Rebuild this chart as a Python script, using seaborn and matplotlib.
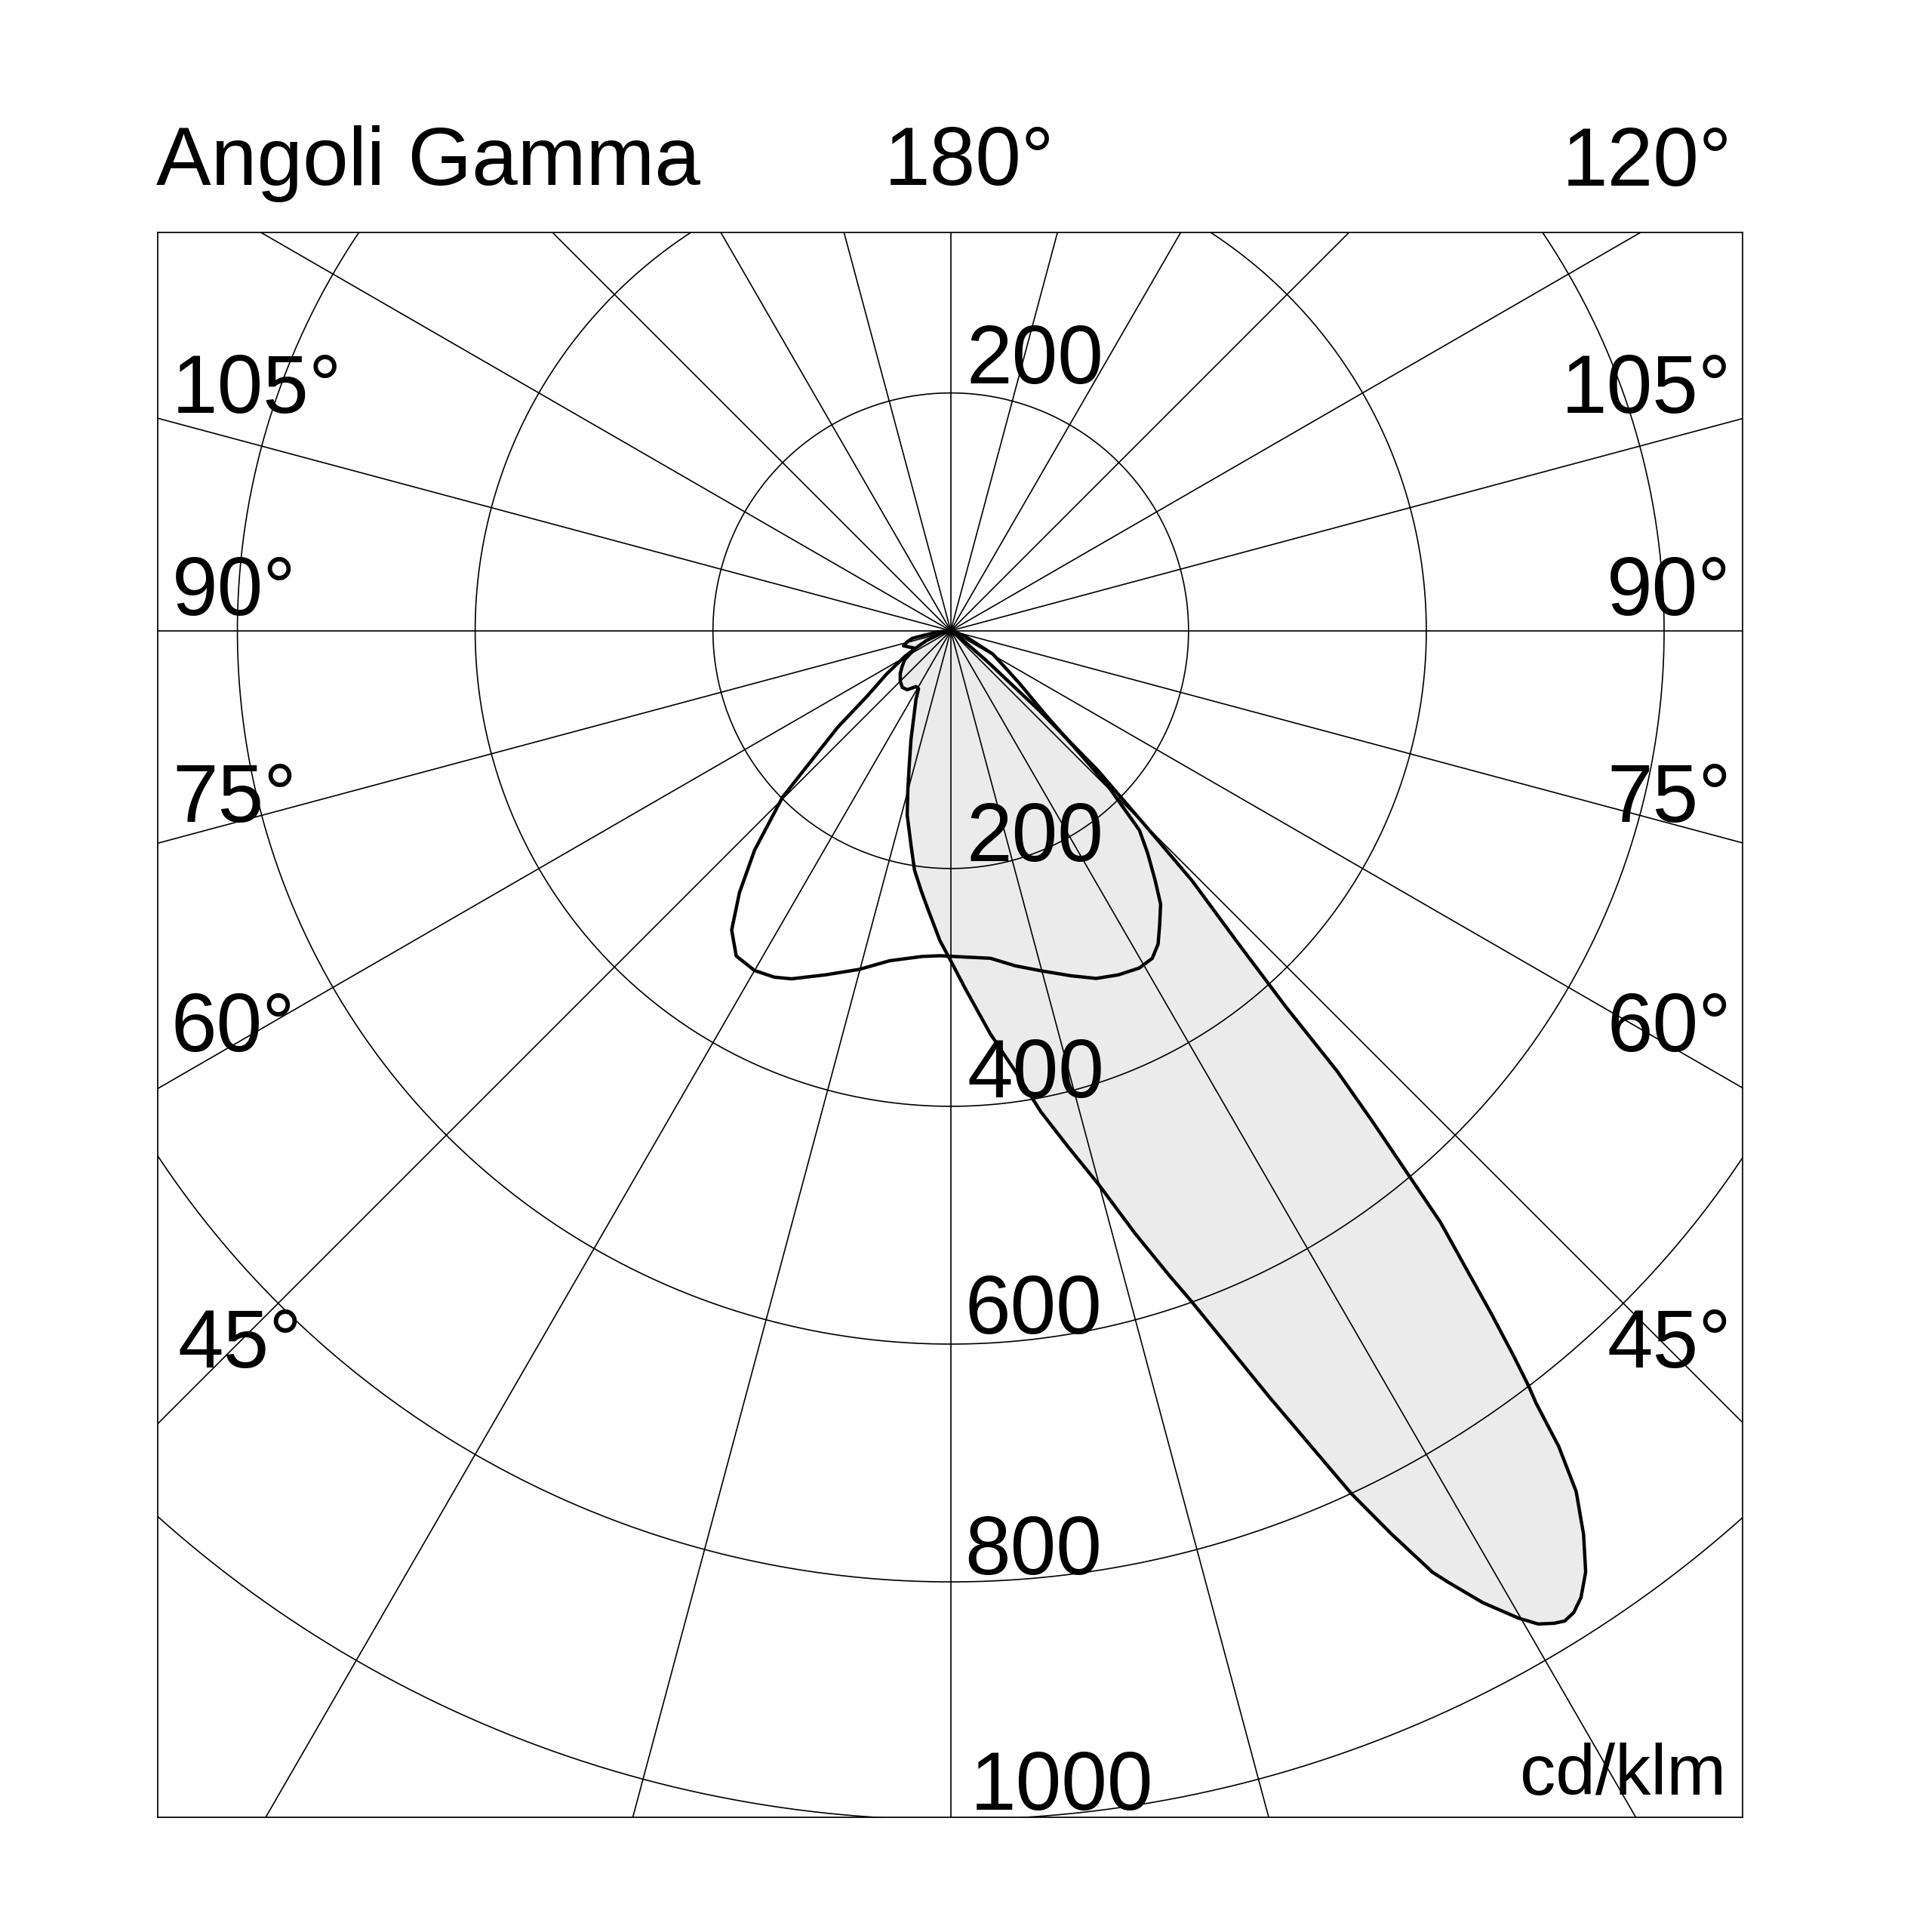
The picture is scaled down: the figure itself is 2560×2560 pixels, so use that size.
import numpy as np
import matplotlib
matplotlib.use("Agg")
import matplotlib.pyplot as plt
import seaborn as sns

# ---------------- data (gamma angle in degrees, signed: + = right side; intensity cd/klm)
lobe_gamma = [-90, -85, -80.6, -78.8, -75.5, -72.3, -68, -64.4, -61, -57.9, -53.5, -49.7, -45,
              -40.6, -36.4, -31.9, -29.1, -26.9, -22.8, -20.1, -17.2, -15.1, -13.3, -10.5, -8.6,
              -6.5, -4.8, -2.0, 0, 2.3, 5.6, 8.35, 10.6, 12.8, 15, 17, 18.7, 19.7, 22.6, 24.9,
              26.0, 27.1, 27.6, 28.7, 29.9, 30.6, 31.3, 31.8, 32.4, 33.1, 34.0, 35.0, 36.0,
              36.7, 37.15, 37.42, 37.82, 38.37, 38.95, 39.62, 40.06, 40.67, 41.26, 41.7, 42.6,
              44.0, 45.0, 46.5, 48.0, 50.0, 53.0, 60.0, 90.0]
lobe_cd = [0, 10, 22, 33, 38, 41.8, 37, 33.8, 38, 45.7, 51, 55.7, 60,
           62.7, 61.7, 55.3, 55.7, 64.6, 80.8, 97.3, 117.9, 138.6, 159.2, 183.4, 203.7,
           220, 234, 260.8, 277.6, 301, 340.6, 374.7, 411.5, 445, 483, 530, 572, 598, 699, 800,
           845, 889.6, 903, 932, 958, 970.6, 977, 980, 978, 970.7, 955, 928, 895,
           855.6, 815.5, 800, 772, 732, 689, 646, 599, 544.5, 493, 424, 357,
           292, 230, 170, 100, 40, 10, 0, 0]

blob_gamma = [-90, -75, -68, -63, -60.8, -56, -52, -49.5, -47.4, -45.3, -41.8, -38.9, -36.2,
              -33.4, -30, -27, -24.6, -20, -15.1, -10.5, -5, -1.9, 2, 6.9, 10.9, 14.9, 19.2,
              22.7, 26, 29.2, 31.6, 33.5, 35.3, 37.5, 39.3, 41.5, 43.4, 45.3, 46.4, 48.5,
              52.4, 56, 61, 69, 75, 90]
blob_cd = [0, 8, 22, 35, 44, 65, 89, 125, 153.6, 199, 247.5, 283, 312,
           327.7, 330, 327, 322, 308, 295, 282.3, 275, 273.5, 274.5, 277.5, 287, 296, 307.3,
           317, 322, 325, 323.5, 316, 304, 290, 271.5, 250, 231, 187, 150.8, 106,
           73.7, 55, 40.4, 12.9, 3, 0]

ring_values = [200, 400, 600, 800, 1000]
spoke_step = 15
left_labels = ["105°", "90°", "75°", "60°", "45°"]
right_labels = ["105°", "90°", "75°", "60°", "45°"]
radial_labels = ["200", "200", "400", "600", "800", "1000"]
title_text = "Angoli Gamma"
top_mid_text = "180°"
top_right_text = "120°"
unit_text = "cd/klm"

# ---------------- style
sns.set_theme(style="white")
plt.rcParams["font.family"] = ["Liberation Sans", "DejaVu Sans"]

W = 2560
fig = plt.figure(figsize=(25.6, 25.6), dpi=100)
fig.patch.set_facecolor("white")
ax = fig.add_axes([209 / W, 1 - 2408 / W, 2100 / W, 2100 / W])
ax.set_xticks([])
ax.set_yticks([])
for s in ax.spines.values():
    s.set_color("black")
    s.set_linewidth(1.25)
    s.set_visible(True)
ax.set_facecolor("white")


def to_xy(g, r):
    g = np.radians(np.asarray(g, float))
    r = np.asarray(r, float)
    return r * np.sin(g), -r * np.cos(g)


GRID_LW = 1.2
CURVE_LW = 3.2

# lobe fill
lx, ly = to_xy(lobe_gamma, lobe_cd)
ax.fill(lx, ly, color="#ebebeb", lw=0, zorder=1)

# grid circles
th = np.linspace(0, 2 * np.pi, 1441)
for R in ring_values:
    sns.lineplot(x=R * np.cos(th), y=R * np.sin(th), sort=False, estimator=None,
                 color="black", lw=GRID_LW, ax=ax, zorder=2)

# spokes
for a in range(0, 180, spoke_step):
    t = np.radians(a)
    ax.plot([-2000 * np.cos(t), 2000 * np.cos(t)], [-2000 * np.sin(t), 2000 * np.sin(t)],
            color="black", lw=GRID_LW, zorder=2)

# curves
bx, by = to_xy(blob_gamma, blob_cd)
sns.lineplot(x=bx, y=by, sort=False, estimator=None, color="black", lw=CURVE_LW, ax=ax, zorder=3)
sns.lineplot(x=lx, y=ly, sort=False, estimator=None, color="black", lw=CURVE_LW, ax=ax, zorder=3)
for ln in ax.lines[-2:]:
    ln.set_solid_joinstyle("round")
    ln.set_solid_capstyle("round")

ax.set_xlim(-667, 666)
ax.set_ylim(-998, 335)
ax.set_xlabel("")
ax.set_ylabel("")


def ptext(s, x, y, ha="left", size=78.5):
    fig.text(x / W, 1 - y / W, s, ha=ha, va="baseline", fontsize=size, color="black")


ptext(title_text, 207, 245)
ptext(top_mid_text, 1172, 245)
ptext(top_right_text, 2295, 246, ha="right")

left_x = [228, 228, 228, 226, 236]
rows_y = [547, 815, 1089, 1393, 1812]
for s, x, y in zip(left_labels, left_x, rows_y):
    ptext(s, x, y)
for s, y in zip(right_labels, rows_y):
    ptext(s, 2294, y, ha="right")

rad_x = [1280, 1280, 1281, 1278, 1278, 1286]
rad_y = [508, 1141, 1454, 1767, 2086, 2398]
for s, x, y in zip(radial_labels, rad_x, rad_y):
    ptext(s, x, y)

ptext(unit_text, 2287, 2378, ha="right", size=68)

fig.savefig("out.png", dpi=100, facecolor="white")
